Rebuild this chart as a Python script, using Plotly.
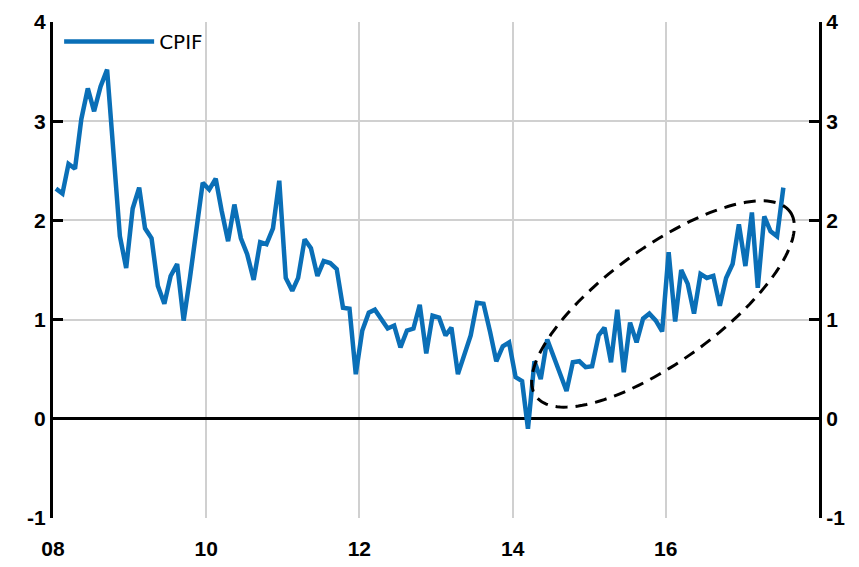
import numpy as np
import pandas as pd
import plotly.graph_objects as go

# Monthly CPIF, annual % change, Jan 2008 - Jul 2017
start_month = "2008-01-01"
cpif = [
    2.32, 2.27, 2.57, 2.52, 3.02, 3.33, 3.10, 3.35, 3.52, 2.70,
    1.84, 1.52, 2.12, 2.33, 1.92, 1.82, 1.34, 1.16, 1.44, 1.56,
    0.99, 1.42, 1.92, 2.38, 2.31, 2.42, 2.10, 1.79, 2.16, 1.82,
    1.66, 1.40, 1.78, 1.76, 1.92, 2.40, 1.42, 1.29, 1.42, 1.81,
    1.72, 1.44, 1.59, 1.57, 1.51, 1.12, 1.11, 0.45, 0.89, 1.07,
    1.10, 1.00, 0.91, 0.94, 0.72, 0.89, 0.91, 1.15, 0.66, 1.04,
    1.02, 0.84, 0.92, 0.45, 0.65, 0.84, 1.17, 1.16, 0.88, 0.58,
    0.73, 0.77, 0.42, 0.38, -0.10, 0.58, 0.40, 0.80, 0.63, 0.46,
    0.28, 0.57, 0.58, 0.52, 0.53, 0.84, 0.92, 0.57, 1.10, 0.47,
    0.97, 0.77, 1.01, 1.06, 0.99, 0.88, 1.68, 0.98, 1.50, 1.36,
    1.06, 1.46, 1.42, 1.44, 1.14, 1.42, 1.56, 1.96, 1.54, 2.08,
    1.32, 2.04, 1.89, 1.84, 2.33,
]
dates = pd.date_range(start_month, periods=len(cpif), freq="MS") + pd.Timedelta(days=14)

y_ticks = [-1, 0, 1, 2, 3, 4]
y_tick_text = ["-1", "0", "1", "2", "3", "4"]
x_ticks = ["2008-01-01", "2010-01-01", "2012-01-01", "2014-01-01", "2016-01-01"]
x_tick_text = ["08", "10", "12", "14", "16"]
x_range = ["2008-01-01", "2018-01-01"]
y_range = [-1, 4]

# Figure size (page body adds an 8px margin)
W, H = 851, 551
ml, mr, mt, mb = 45, 40, 14, 41
pw, ph = W - ml - mr, H - mt - mb
off = 8  # body margin offset, page pixels

fig = go.Figure()
fig.add_trace(go.Scatter(
    x=dates, y=cpif, mode="lines", name="CPIF",
    line=dict(color="#0a6fb7", width=4.5),
))
# invisible trace for right axis
fig.add_trace(go.Scatter(x=[dates[0]], y=[None], yaxis="y2", showlegend=False,
                         hoverinfo="skip"))

# dashed ellipse (annotation), defined in page-pixel space then converted to paper
cx, cy, a, b, th = 663, 304, 157, 57, np.deg2rad(36)
t = np.linspace(0, 2 * np.pi, 160)
ex = cx + a * np.cos(t) * np.cos(th) + b * np.sin(t) * np.sin(th)
ey = cy - a * np.cos(t) * np.sin(th) + b * np.sin(t) * np.cos(th)
px = (ex - off - ml) / pw
py = (H - mb - (ey - off)) / ph
path = "M " + " L ".join(f"{u:.4f},{v:.4f}" for u, v in zip(px, py)) + " Z"

tickfont = dict(family="Liberation Sans Narrow, Arial Narrow, Liberation Sans, Arial",
                size=21, color="black", weight="bold")

fig.update_layout(
    width=W, height=H,
    margin=dict(l=ml, r=mr, t=mt, b=mb),
    plot_bgcolor="white", paper_bgcolor="white",
    showlegend=True,
    legend=dict(x=0.008, y=1.0, xanchor="left", yanchor="top",
                bgcolor="rgba(0,0,0,0)", itemwidth=90,
                font=dict(family="DejaVu Sans", size=20, color="black")),
    xaxis=dict(range=x_range, type="date", tickvals=x_ticks, ticktext=x_tick_text,
               showgrid=True, gridcolor="#d0d0d0", gridwidth=1.5,
               showline=False, ticks="", zeroline=False, tickfont=tickfont,
               ticklabelstandoff=16, automargin=False),
    yaxis=dict(range=y_range, tickvals=y_ticks, ticktext=y_tick_text,
               showgrid=True, gridcolor="#d0d0d0",
               gridwidth=1.5, zeroline=True, zerolinecolor="black", zerolinewidth=3,
               showline=True, linecolor="black", linewidth=3,
               ticks="inside", ticklen=10, tickwidth=3, tickcolor="black",
               tickfont=tickfont, automargin=False),
    yaxis2=dict(range=y_range, tickvals=y_ticks, ticktext=y_tick_text,
                overlaying="y", side="right",
                showgrid=False, zeroline=False,
                showline=True, linecolor="black", linewidth=3,
                ticks="inside", ticklen=10, tickwidth=3, tickcolor="black",
                tickfont=tickfont, automargin=False),
    shapes=[dict(type="path", path=path, xref="paper", yref="paper",
                 line=dict(color="black", width=3, dash="12px,8px"))],
)

fig.write_html("out.html")
